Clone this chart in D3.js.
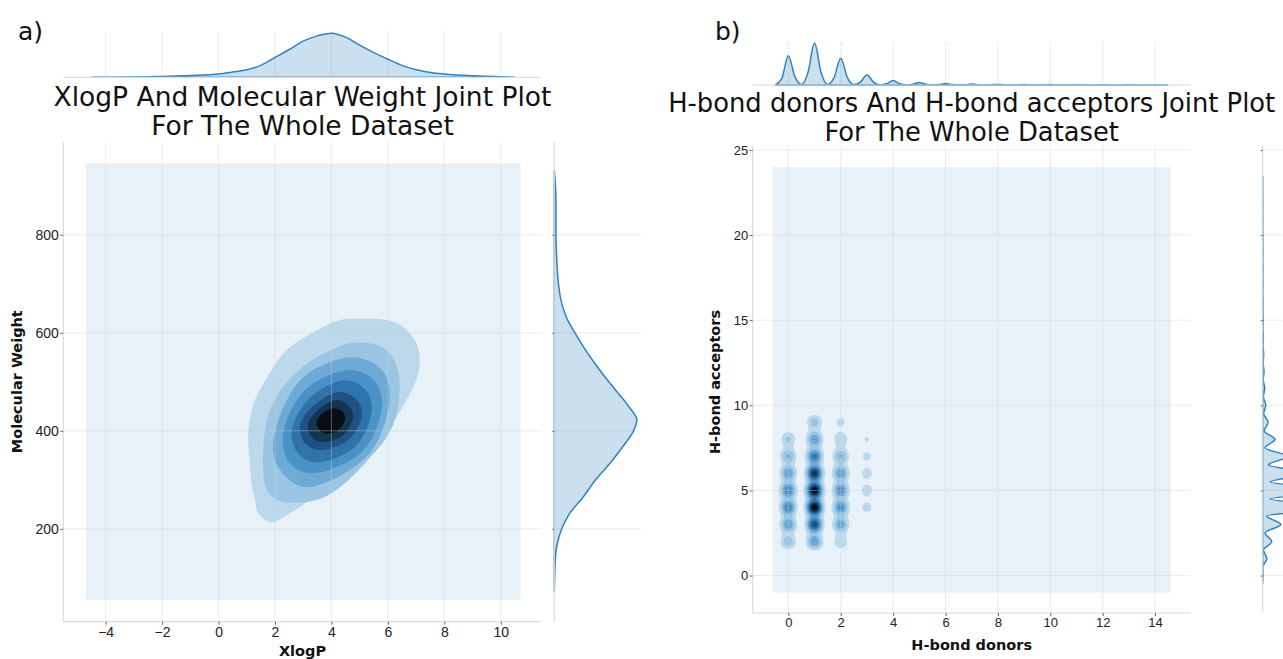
<!DOCTYPE html>
<html>
<head>
<meta charset="utf-8">
<script src="https://cdn.jsdelivr.net/npm/d3@7"></script>
<style>
  body { margin: 0; background: #fff; }
  svg { display: block; font-family: "DejaVu Sans", sans-serif; }
  .tick text { fill: #222; }
  .tick line { stroke: #666; }
  .axis-label { font-weight: bold; fill: #111; }
  .title { fill: #111; }
</style>
</head>
<body>
<div id="chart"></div>
<script>
// ---------- a) XlogP / Molecular Weight ----------
var xlogpTicks = [-4, -2, 0, 2, 4, 6, 8, 10];
var mwTicks = [200, 400, 600, 800];

// marginal kde of XlogP (relative density)
var xlogpGrid    = [-4.5, -3, -2, -1, 0, 0.5, 1, 1.5, 2, 2.5, 3, 3.5, 4, 4.5, 5, 5.5, 6, 6.5, 7, 7.5, 8, 9, 10, 10.5];
var xlogpDensity = [0, 0.005, 0.02, 0.04, 0.075, 0.12, 0.17, 0.27, 0.45, 0.63, 0.82, 0.94, 1.0, 0.91, 0.73, 0.56, 0.41, 0.27, 0.17, 0.11, 0.075, 0.035, 0.015, 0];

// marginal kde of Molecular Weight (relative density)
var mwGrid    = [70, 100, 130, 165, 200, 230, 265, 300, 335, 370, 400, 422, 450, 500, 540, 575, 600, 630, 660, 700, 750, 800, 870, 932];
var mwDensity = [0, 0.005, 0.01, 0.03, 0.09, 0.18, 0.35, 0.5, 0.68, 0.84, 0.96, 1.0, 0.9, 0.66, 0.48, 0.34, 0.25, 0.15, 0.09, 0.05, 0.03, 0.02, 0.02, 0];

// extent of the kde grid (lowest shaded level)
var xlogpGridExtent = [-4.7, 10.7];
var mwGridExtent = [55, 946];

// contour levels of the joint kde, outer to inner, as [XlogP, MW]
var level1 = [[4.89,629],[5.95,626],[6.54,612],[7.02,578],[7.13,537],[6.96,497],[6.66,463],[6.31,428],[5.89,395],[5.36,361],[4.77,327],[4.06,293],[3.24,259],[2.53,232],[1.88,214],[1.41,232],[1.29,259],[1.17,293],[1.12,327],[1.06,367],[1.06,401],[1.12,428],[1.29,463],[1.53,490],[1.88,524],[2.29,558],[2.88,585],[3.71,612],[4.30,626]];
var level2 = [[4.65,579],[5.65,575],[6.07,558],[6.32,530],[6.42,497],[6.39,463],[6.25,422],[5.89,381],[5.43,350],[4.90,316],[4.30,285],[3.59,261],[2.53,253],[2.07,259],[1.68,283],[1.58,320],[1.58,361],[1.68,412],[1.89,452],[2.25,487],[2.74,518],[3.31,544],[3.95,564]];
var level3 = [[4.73,550],[5.79,524],[6.07,467],[5.29,350],[3.06,285],[2.18,320],[1.93,371],[2.89,503]];
var level4 = [[4.66,524],[5.50,503],[5.79,452],[5.08,357],[3.24,314],[2.50,336],[2.28,391],[3.06,483]];
var level5 = [[4.48,503],[5.22,483],[5.43,442],[4.83,367],[3.42,336],[2.78,357],[2.60,401],[3.24,467]];
var level6 = [[4.30,479],[4.90,463],[5.08,432],[4.58,381],[3.52,361],[3.03,377],[2.89,412],[3.38,452]];
var level7 = [[4.20,463],[4.66,448],[4.76,426],[4.41,391],[3.66,377],[3.27,389],[3.17,414],[3.52,442]];
var level8 = [[4.12,446],[4.41,438],[4.48,422],[4.23,401],[3.77,395],[3.52,406],[3.49,422],[3.74,438]];

// ---------- b) H-bond donors / acceptors ----------
var donorTicks = [0, 2, 4, 6, 8, 10, 12, 14];
var acceptorTicks = [0, 5, 10, 15, 20, 25];

// marginal kde of donors
var donorGrid = [-0.5,-0.25,0,0.25,0.5,0.75,1,1.25,1.5,1.75,2,2.25,2.5,2.75,3,3.25,3.5,3.75,4,4.25,4.5,4.75,5,5.25,5.5,5.75,6,6.25,6.5,6.75,7,7.25,7.5,7.75,8,8.25,8.5,8.75,9,9.25,9.5,9.75,10,10.25,10.5,10.75,11,11.25,11.5,11.75,12,12.25,12.5,12.75,13,13.25,13.5,13.75,14,14.25,14.5];
var donorDensity = [0,0.15,0.70,0.2,0.01,0.3,1.0,0.3,0.01,0.18,0.64,0.18,0.01,0.07,0.24,0.07,0.005,0.03,0.105,0.03,0.004,0.018,0.058,0.018,0.003,0.01,0.033,0.01,0.003,0.008,0.023,0.008,0.002,0.005,0.014,0.005,0.002,0.004,0.01,0.004,0.002,0.004,0.012,0.004,0.002,0.003,0.008,0.003,0.002,0.002,0.006,0.002,0.001,0.002,0.006,0.002,0.001,0.001,0.004,0.001,0];

// marginal kde of acceptors
var acceptorGrid = [-0.5,0,0.5,1,1.5,2,2.5,3,3.5,4,4.5,5,5.5,6,6.5,7,7.5,8,8.5,9,9.5,10,10.5,11,11.5,12,12.5,13,13.5,14,14.5,15,15.5,16,16.5,17,17.5,18,18.5,19,19.5,20,20.5,21,21.5,22,22.5,23,23.5];
var acceptorDensity = [0,0.004,0.002,0.05,0.009,0.11,0.028,0.22,0.05,0.95,0.09,1.0,0.09,0.6,0.07,0.3,0.028,0.15,0.018,0.065,0.012,0.037,0.008,0.025,0.006,0.016,0.005,0.012,0.004,0.008,0.003,0.006,0.003,0.005,0.002,0.004,0.002,0.004,0.002,0.003,0.002,0.003,0.001,0.002,0.001,0.002,0.001,0.001,0];

var donorGridExtent = [-0.6, 14.6];
var acceptorGridExtent = [-1, 24];

// counts per (donor, acceptor) cell feeding the joint kde, relative
var jointDonors = [0, 1, 2, 3];
var jointAcceptors = [2, 3, 4, 5, 6, 7, 8, 9];
var jointWeights = [
  [0.30, 0.45, 0.55, 0.55, 0.45, 0.35, 0.25, 0],
  [0.45, 0.75, 1.00, 1.00, 0.85, 0.60, 0.45, 0.28],
  [0.22, 0.42, 0.50, 0.50, 0.45, 0.35, 0.22, 0.14],
  [0, 0, 0.15, 0.17, 0.16, 0.14, 0.12, 0]
];

// ---------- styling ----------
var levelColors = ["#e9f1f8", "#bcd9ec", "#9bc6e3", "#6eaad6", "#4a91c6", "#2f73ab", "#1f5282", "#143552", "#070d13"];
var lineColor = "#3182bd";
var spineColor = "#dcdcdc";
var gridColor = "#cfcfcf";

var svg = d3.select("#chart")
  .append("svg")
    .attr("width", 1283)
    .attr("height", 659);

function gridLines(g, xs, ys, x, y) {
  // vertical
  g.selectAll(null).data(xs).enter().append("line")
    .attr("x1", function(d) { return x(d); })
    .attr("x2", function(d) { return x(d); })
    .attr("y1", y.range()[0]).attr("y2", y.range()[1])
    .attr("stroke", gridColor).attr("stroke-width", 0.8).attr("stroke-dasharray", "1,1");
  // horizontal
  g.selectAll(null).data(ys).enter().append("line")
    .attr("x1", x.range()[0]).attr("x2", x.range()[1])
    .attr("y1", function(d) { return y(d); })
    .attr("y2", function(d) { return y(d); })
    .attr("stroke", gridColor).attr("stroke-width", 0.8).attr("stroke-dasharray", "1,1");
}

function spine(x1, y1, x2, y2) {
  svg.append("line")
    .attr("x1", x1).attr("y1", y1).attr("x2", x2).attr("y2", y2)
    .attr("stroke", spineColor).attr("stroke-width", 1.2);
}

function styleAxis(g, size) {
  g.select(".domain").remove();
  g.selectAll(".tick text").style("font-size", size + "px");
}

function addTitle(cx, y1, size, text) {
  svg.append("text").attr("class", "title")
    .attr("x", cx).attr("y", y1)
    .attr("text-anchor", "middle").style("font-size", size + "px")
    .text(text);
  svg.append("text").attr("class", "title")
    .attr("x", cx).attr("y", y1 + 29)
    .attr("text-anchor", "middle").style("font-size", size + "px")
    .text("For The Whole Dataset");
}

// =====================================================
// a) panel
// =====================================================
var xL = d3.scaleLinear().domain([-5.5, 11.45]).range([63.3, 541.7]);
var yL = d3.scaleLinear().domain([10.5, 990]).range([621.7, 141.7]);

var panelA = svg.append("g");

// lowest shaded level
panelA.append("rect")
  .attr("x", xL(xlogpGridExtent[0]))
  .attr("y", yL(mwGridExtent[1]))
  .attr("width", xL(xlogpGridExtent[1]) - xL(xlogpGridExtent[0]))
  .attr("height", yL(mwGridExtent[0]) - yL(mwGridExtent[1]))
  .attr("fill", levelColors[0]);

// contour levels
var ring = d3.line()
  .x(function(d) { return xL(d[0]); })
  .y(function(d) { return yL(d[1]); })
  .curve(d3.curveCatmullRomClosed.alpha(0.5));

[level1, level2, level3, level4, level5, level6, level7, level8].forEach(function(lv, i) {
  panelA.append("path")
    .attr("d", ring(lv))
    .attr("fill", levelColors[i + 1]);
});

gridLines(panelA, xlogpTicks, mwTicks, xL, yL);
spine(63.3, 141.7, 63.3, 621.7);
spine(63.3, 621.7, 541.7, 621.7);

// X axis
var axA = svg.append("g")
  .attr("transform", "translate(0,621.7)")
  .call(d3.axisBottom(xL).tickValues(xlogpTicks).tickSize(3).tickPadding(2.5));
styleAxis(axA, 14);

// Y axis
var ayA = svg.append("g")
  .attr("transform", "translate(63.3,0)")
  .call(d3.axisLeft(yL).tickValues(mwTicks).tickSize(3).tickPadding(1.5));
styleAxis(ayA, 14);

svg.append("text").attr("class", "axis-label")
  .attr("x", 302.5).attr("y", 651)
  .attr("text-anchor", "middle").attr("dominant-baseline", "central")
  .style("font-size", "14.5px")
  .text("XlogP");

svg.append("text").attr("class", "axis-label")
  .attr("transform", "translate(16.7,381.7) rotate(-90)")
  .attr("text-anchor", "middle").attr("dominant-baseline", "central")
  .style("font-size", "14.5px")
  .text("Molecular Weight");

// top marginal
var yTopA = d3.scaleLinear().domain([0, 1.05]).range([77.3, 31]);
gridLines(svg.append("g"), xlogpTicks, [], xL, yTopA);
svg.append("path")
  .datum(d3.zip(xlogpGrid, xlogpDensity))
  .attr("d", d3.area()
    .x(function(d) { return xL(d[0]); })
    .y0(yTopA(0))
    .y1(function(d) { return yTopA(d[1]); })
    .curve(d3.curveMonotoneX))
  .attr("fill", lineColor).attr("fill-opacity", 0.25)
  .attr("stroke", lineColor).attr("stroke-width", 1.5);
spine(63.3, 77.3, 541.7, 77.3);

// right marginal
var xSideA = d3.scaleLinear().domain([0, 1.05]).range([554.3, 641]);
gridLines(svg.append("g"), [], mwTicks, xSideA, yL);
svg.append("path")
  .datum(d3.zip(mwGrid, mwDensity))
  .attr("d", d3.area()
    .y(function(d) { return yL(d[0]); })
    .x0(xSideA(0))
    .x1(function(d) { return xSideA(d[1]); })
    .curve(d3.curveMonotoneY))
  .attr("fill", lineColor).attr("fill-opacity", 0.25)
  .attr("stroke", lineColor).attr("stroke-width", 1.5);
spine(554.3, 141.7, 554.3, 621.7);
var sideTicksA = svg.append("g")
  .attr("transform", "translate(554.3,0)")
  .call(d3.axisLeft(yL).tickValues(mwTicks).tickSize(2).tickFormat(""));
sideTicksA.select(".domain").remove();

addTitle(302.5, 106, 26.5, "XlogP And Molecular Weight Joint Plot");

svg.append("text")
  .attr("x", 18).attr("y", 40)
  .style("font-size", "25px").attr("fill", "#111")
  .text("a)");

// =====================================================
// b) panel
// =====================================================
var xR = d3.scaleLinear().domain([-1.36, 15.36]).range([752.7, 1190.7]);
var yR = d3.scaleLinear().domain([-2.2, 25.25]).range([613, 145.7]);

var panelB = svg.append("g");

panelB.append("rect")
  .attr("x", xR(donorGridExtent[0]))
  .attr("y", yR(acceptorGridExtent[1]))
  .attr("width", xR(donorGridExtent[1]) - xR(donorGridExtent[0]))
  .attr("height", yR(acceptorGridExtent[0]) - yR(acceptorGridExtent[1]))
  .attr("fill", levelColors[0]);

// joint kde of the discrete counts
var ox = xR.range()[0], oy = yR.range()[1];
var cells = [];
jointWeights.forEach(function(row, i) {
  row.forEach(function(w, j) {
    if (w > 0) cells.push({d: jointDonors[i], a: jointAcceptors[j], w: w});
  });
});

var density = d3.contourDensity()
  .x(function(p) { return xR(p.d) - ox; })
  .y(function(p) { return yR(p.a) - oy; })
  .weight(function(p) { return p.w; })
  .size([xR.range()[1] - ox, yR.range()[0] - oy])
  .cellSize(1)
  .bandwidth(5);

var maxDensity;
if (typeof density.contours === "function") {
  maxDensity = density.contours(cells).max;
} else {
  var probe = d3.range(0, 500).map(function(i) { return 1e-8 * Math.pow(1.05, i); });
  maxDensity = 0;
  density.thresholds(probe)(cells).forEach(function(c) {
    if (c.coordinates.length) maxDensity = c.value;
  });
}
var levels = d3.range(1, 9).map(function(k) { return maxDensity * k / 9; });
var blobs = density.thresholds(levels)(cells);

panelB.append("g")
  .attr("transform", "translate(" + ox + "," + oy + ")")
  .selectAll("path")
  .data(blobs)
  .enter()
  .append("path")
    .attr("d", d3.geoPath())
    .attr("fill", function(d, i) { return levelColors[i + 1]; });

gridLines(panelB, donorTicks, acceptorTicks, xR, yR);
spine(752.7, 145.7, 752.7, 613);
spine(752.7, 613, 1190.7, 613);

// X axis
var axB = svg.append("g")
  .attr("transform", "translate(0,613)")
  .call(d3.axisBottom(xR).tickValues(donorTicks).tickSize(3).tickPadding(2));
styleAxis(axB, 13);

// Y axis
var ayB = svg.append("g")
  .attr("transform", "translate(752.7,0)")
  .call(d3.axisLeft(yR).tickValues(acceptorTicks).tickSize(3).tickPadding(1.5));
styleAxis(ayB, 13);

svg.append("text").attr("class", "axis-label")
  .attr("x", 971.7).attr("y", 645)
  .attr("text-anchor", "middle").attr("dominant-baseline", "central")
  .style("font-size", "14.5px")
  .text("H-bond donors");

svg.append("text").attr("class", "axis-label")
  .attr("transform", "translate(715,382) rotate(-90)")
  .attr("text-anchor", "middle").attr("dominant-baseline", "central")
  .style("font-size", "14.5px")
  .text("H-bond acceptors");

// top marginal
var yTopB = d3.scaleLinear().domain([0, 1.05]).range([85, 41]);
gridLines(svg.append("g"), donorTicks, [], xR, yTopB);
svg.append("path")
  .datum(d3.zip(donorGrid, donorDensity))
  .attr("d", d3.area()
    .x(function(d) { return xR(d[0]); })
    .y0(yTopB(0))
    .y1(function(d) { return yTopB(d[1]); })
    .curve(d3.curveMonotoneX))
  .attr("fill", lineColor).attr("fill-opacity", 0.25)
  .attr("stroke", lineColor).attr("stroke-width", 1.5);
spine(752.7, 85, 1190.7, 85);

// right marginal
var xSideB = d3.scaleLinear().domain([0, 1.05]).range([1262.7, 1349.4]);
gridLines(svg.append("g"), [], acceptorTicks, xSideB, yR);
svg.append("path")
  .datum(d3.zip(acceptorGrid, acceptorDensity))
  .attr("d", d3.area()
    .y(function(d) { return yR(d[0]); })
    .x0(xSideB(0))
    .x1(function(d) { return xSideB(d[1]); })
    .curve(d3.curveMonotoneY))
  .attr("fill", lineColor).attr("fill-opacity", 0.25)
  .attr("stroke", lineColor).attr("stroke-width", 1.5);
spine(1262.7, 145.7, 1262.7, 613);
var sideTicksB = svg.append("g")
  .attr("transform", "translate(1262.7,0)")
  .call(d3.axisLeft(yR).tickValues(acceptorTicks).tickSize(2).tickFormat(""));
sideTicksB.select(".domain").remove();

addTitle(971.7, 112, 25.8, "H-bond donors And H-bond acceptors Joint Plot");

svg.append("text")
  .attr("x", 715).attr("y", 40)
  .style("font-size", "25px").attr("fill", "#111")
  .text("b)");
</script>
</body>
</html>
